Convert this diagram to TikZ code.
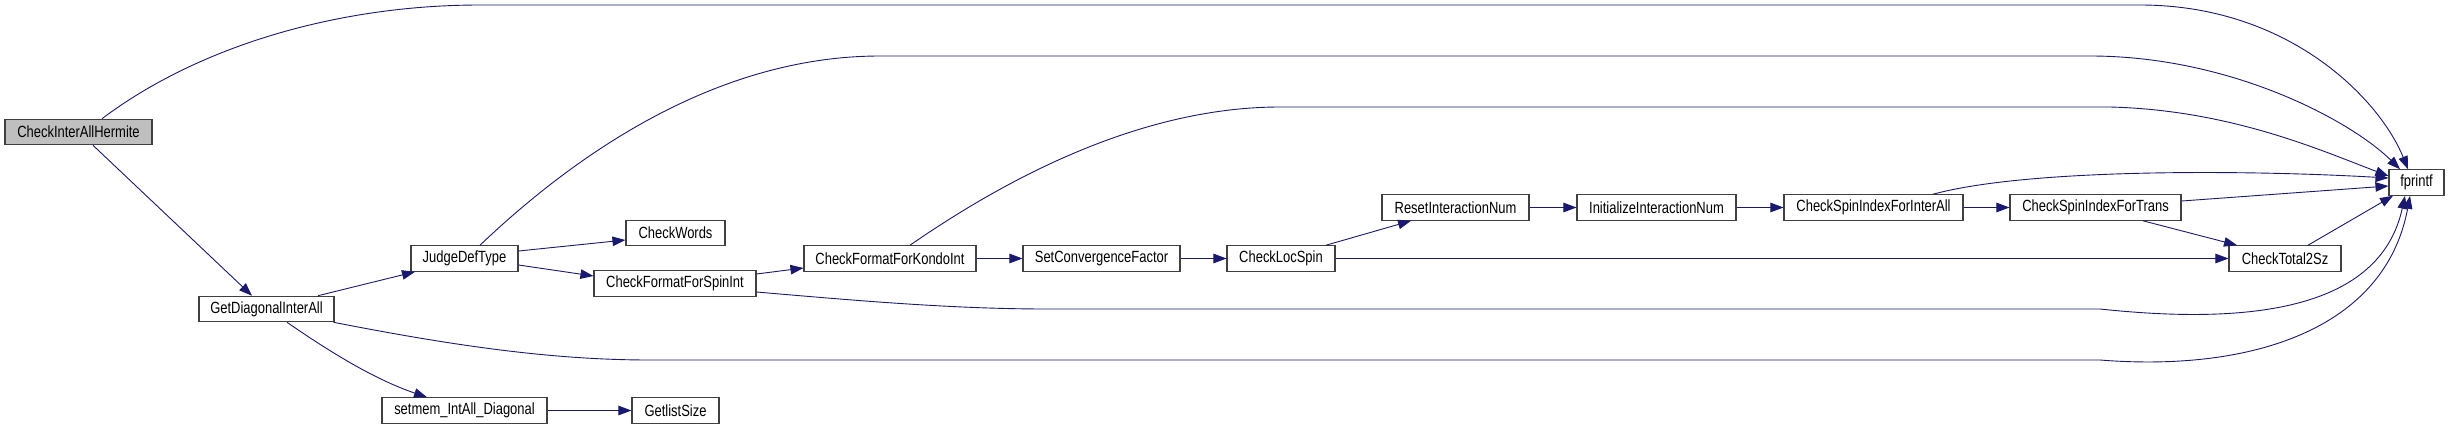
\documentclass[tikz,border=0pt]{standalone}
\usepackage{fontspec}
\setmainfont{Liberation Sans}[FakeStretch=0.8]
\usetikzlibrary{arrows.meta}
\definecolor{edgeblue}{HTML}{191970}
\definecolor{rootgray}{HTML}{BFBFBF}
\definecolor{borderc}{HTML}{404040}
\begin{document}
\begin{tikzpicture}[x=1pt,y=-1pt,
  fn/.style={draw=borderc, line width=1.1pt, fill=white, minimum height=25.5pt, inner sep=0pt, font=\fontsize{16.2}{18}\selectfont},
  rootfn/.style={fn, fill=rootgray},
  call/.style={draw=edgeblue, line width=0.9pt, -{Triangle[length=13pt,width=9.5pt,fill=edgeblue]}}]
\useasboundingbox[fill=white] (0,0) rectangle (2449,429);

% nodes
\node[rootfn, minimum width=147pt] (root) at (78.5,132) {CheckInterAllHermite};
\node[fn, minimum width=135pt] (diag) at (266.5,309) {GetDiagonalInterAll};
\node[fn, minimum width=107pt] (judge) at (464.5,258.5) {JudgeDefType};
\node[fn, minimum width=165pt] (setmem) at (464.5,410.5) {setmem\_IntAll\_Diagonal};
\node[fn, minimum width=99pt] (words) at (675.5,233) {CheckWords};
\node[fn, minimum width=162pt] (spin) at (675,283.5) {CheckFormatForSpinInt};
\node[fn, minimum width=87pt] (glsize) at (675.5,410.5) {GetlistSize};
\node[fn, minimum width=172pt] (kondo) at (890,258.5) {CheckFormatForKondoInt};
\node[fn, minimum width=157pt] (setconv) at (1101.5,258.5) {SetConvergenceFactor};
\node[fn, minimum width=108pt] (locspin) at (1281,258.5) {CheckLocSpin};
\node[fn, minimum width=147pt] (reset) at (1455.5,207.5) {ResetInteractionNum};
\node[fn, minimum width=159pt] (init) at (1656.5,207.5) {InitializeInteractionNum};
\node[fn, minimum width=179pt] (csifia) at (1873.5,207.5) {CheckSpinIndexForInterAll};
\node[fn, minimum width=171pt] (csift) at (2095.5,207.5) {CheckSpinIndexForTrans};
\node[fn, minimum width=112pt] (total) at (2285,258.5) {CheckTotal2Sz};
\node[fn, minimum width=55pt] (fprintf) at (2416.5,182.5) {fprintf};

% edges
\draw[call] ([xshift=14.5pt]root.south) -- ([xshift=-14.5pt]diag.north);
\draw[call] ([xshift=23.5pt]root.north) .. controls (200,45) and (340,5) .. (480,5)
  -- (2140,5) .. controls (2290,5) and (2380,100) .. ([xshift=-8.5pt]fprintf.north);

\draw[call] ([xshift=51.5pt]diag.north) -- ([xshift=-49.5pt]judge.south);
\draw[call] ([xshift=20.5pt]diag.south) .. controls (320,345) and (370,378) .. ([xshift=-37.5pt]setmem.north);
\draw[call] ([xshift=-1pt]diag.south east) .. controls (450,345) and (550,360) .. (650,360)
  -- (2100,360) .. controls (2250,372) and (2385,330) .. ([xshift=-6.5pt]fprintf.south);

\draw[call] ([yshift=7.5pt]judge.east) -- ([yshift=-7pt]words.west);
\draw[call] ([yshift=-6.5pt]judge.east) -- ([yshift=7.5pt]spin.west);
\draw[call] ([xshift=15.5pt]judge.north) .. controls (580,150) and (720,56) .. (880,56)
  -- (2090,56) .. controls (2230,56) and (2350,120) .. ([xshift=-16.5pt]fprintf.north);

\draw[call] (setmem.east) -- (glsize.west);

\draw[call] ([yshift=9.5pt]spin.east) -- ([yshift=-9.5pt]kondo.west);
\draw[call] ([yshift=-8.5pt]spin.east) .. controls (850,300) and (950,309) .. (1047,309)
  -- (2100,309) .. controls (2250,325) and (2380,310) .. ([xshift=-11.5pt]fprintf.south);

\draw[call] (kondo.east) -- (setconv.west);
\draw[call] ([xshift=20pt]kondo.north) .. controls (990,190) and (1130,107) .. (1280,107)
  -- (2110,107) .. controls (2230,110) and (2320,150) .. ([yshift=6.5pt]fprintf.west);

\draw[call] (setconv.east) -- (locspin.west);
\draw[call] ([xshift=45pt]locspin.north) -- ([xshift=-44.5pt]reset.south);
\draw[call] (locspin.east) -- (total.west);

\draw[call] (reset.east) -- (init.west);
\draw[call] (init.east) -- (csifia.west);
\draw[call] (csifia.east) -- (csift.west);
\draw[call] ([xshift=59.5pt]csifia.north) .. controls (2030,168) and (2250,170) .. ([yshift=4.5pt]fprintf.west);

\draw[call] ([yshift=6.5pt]csift.east) -- ([yshift=-3.5pt]fprintf.west);
\draw[call] ([xshift=47.5pt]csift.south) -- ([xshift=-48pt]total.north);
\draw[call] ([xshift=23pt]total.north) -- ([xshift=-23.5pt]fprintf.south);
\end{tikzpicture}
\end{document}
